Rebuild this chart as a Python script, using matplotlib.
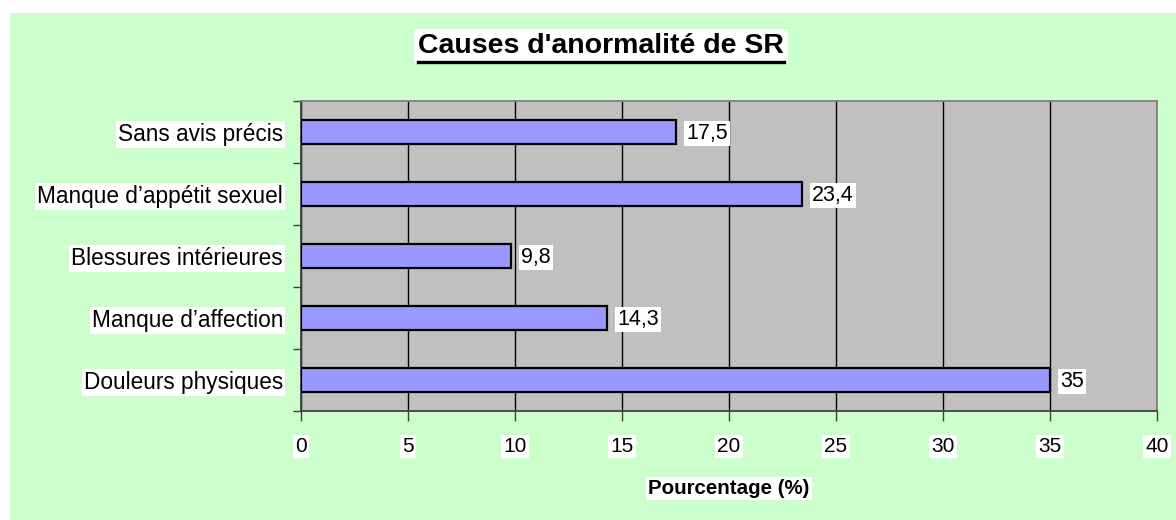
import matplotlib
matplotlib.use("Agg")
import matplotlib.pyplot as plt
from matplotlib.lines import Line2D
from matplotlib.patches import Rectangle

categories = ["Douleurs physiques", "Manque d\u2019affection", "Blessures intérieures",
              "Manque d\u2019appétit sexuel", "Sans avis précis"]
values = [35, 14.3, 9.8, 23.4, 17.5]
value_labels = ["35", "14,3", "9,8", "23,4", "17,5"]
xticks = [0, 5, 10, 15, 20, 25, 30, 35, 40]

plt.rcParams['font.family'] = ['Liberation Sans', 'DejaVu Sans']

W, H = 1176, 520
fig = plt.figure(figsize=(W / 100, H / 100), dpi=100)
fig.patch.set_facecolor("white")
fig.patches.append(Rectangle((10 / W, 0), 1 - 10 / W, 1 - 13 / H, transform=fig.transFigure,
                             facecolor="#CCFFCC", edgecolor="none", zorder=-5))

left, right, top, bottom = 301, 1157, 101, 411
ax = fig.add_axes([left / W, 1 - bottom / H, (right - left) / W, (bottom - top) / H])
ax.set_zorder(2)
ax.set_facecolor("#C0C0C0")

box = dict(facecolor="white", edgecolor="none", pad=1.5)

ypos = list(range(len(categories)))
ax.barh(ypos, values, height=0.4, color="#9999FF", edgecolor="black", linewidth=1.6, zorder=3)
for y, v, lab in zip(ypos, values, value_labels):
    ax.annotate(lab, (v, y), xytext=(7.5, -1), textcoords="offset points",
                ha="left", va="center", fontsize=15.5, zorder=4, bbox=box)

ax.set_xlim(0, 40)
ax.set_ylim(-0.5, len(categories) - 0.5)
ax.set_xticks(xticks)
ax.set_xticklabels([str(t) for t in xticks], fontsize=15, bbox=box)
ax.xaxis.grid(True, color="black", linewidth=1.0, zorder=1)
ax.set_axisbelow(True)
ax.tick_params(axis="x", direction="out", length=7, width=1.0, color="#404040", pad=12)

ax.set_yticks([y - 0.5 for y in range(len(categories) + 1)])
ax.set_yticklabels([])
ax.set_yticks(ypos, minor=True)
ax.set_yticklabels(categories, minor=True, fontsize=16.3)
for lbl in ax.get_yticklabels(minor=True):
    lbl.set_bbox(box)
ax.tick_params(axis="y", which="major", direction="out", length=6, width=1.0, color="#404040")
ax.tick_params(axis="y", which="minor", length=0, pad=13)

for s in ["left", "bottom"]:
    ax.spines[s].set_color("#404040")
    ax.spines[s].set_linewidth(1.3)
for s in ["top", "right"]:
    ax.spines[s].set_color("#808080")
    ax.spines[s].set_linewidth(1.3)

ax.set_xlabel("Pourcentage (%)", fontsize=14.8, fontweight="bold", labelpad=16, bbox=box)

title = fig.text(601 / W, 1 - 46 / H, "Causes d'anormalité de SR",
                 ha="center", va="center", fontsize=20.5, fontweight="bold",
                 bbox=dict(facecolor="white", edgecolor="none", pad=3))
fig.canvas.draw()
bb = title.get_window_extent(renderer=fig.canvas.get_renderer())
ux0, ux1 = bb.x0 / W, bb.x1 / W
uy = (bb.y0 - 3) / H
fig.lines.append(Line2D([ux0, ux1], [uy, uy], transform=fig.transFigure, color="black",
                        linewidth=2.4, zorder=5))

fig.savefig("out.png", dpi=100, facecolor=fig.get_facecolor())
